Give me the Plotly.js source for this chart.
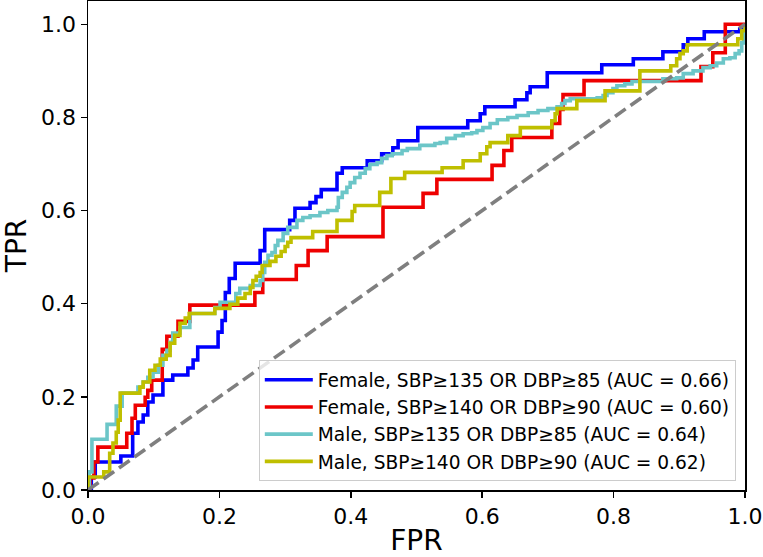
<!DOCTYPE html>
<html>
<head>
<meta charset="utf-8">
<script src="https://cdn.plot.ly/plotly-3.0.1.min.js"></script>
<style>html,body{margin:0;padding:0;background:#fff;}#chart{width:763px;height:557px;}</style>
</head>
<body>
<div id="chart"></div>
<script>
// Female, SBP>=135 OR DBP>=85
const femA_fpr = [0, 0.005, 0.011, 0.050, 0.068, 0.076, 0.084, 0.091, 0.099, 0.114, 0.129, 0.152, 0.160, 0.167, 0.198, 0.204, 0.209, 0.215, 0.224, 0.262, 0.269, 0.307, 0.315, 0.338, 0.347, 0.355, 0.379, 0.387, 0.425, 0.447, 0.464, 0.472, 0.502, 0.578, 0.597, 0.604, 0.650, 0.668, 0.673, 0.699, 0.782, 0.830, 0.875, 0.906, 0.913, 0.938, 0.992, 1.0];
const femA_tpr = [0, 0.028, 0.060, 0.073, 0.122, 0.146, 0.161, 0.189, 0.204, 0.236, 0.247, 0.262, 0.279, 0.307, 0.339, 0.364, 0.424, 0.454, 0.487, 0.514, 0.559, 0.579, 0.605, 0.617, 0.630, 0.645, 0.680, 0.692, 0.707, 0.722, 0.735, 0.750, 0.778, 0.793, 0.808, 0.823, 0.838, 0.853, 0.866, 0.896, 0.913, 0.926, 0.941, 0.956, 0.969, 0.984, 0.990, 1.0];

// Female, SBP>=140 OR DBP>=90
const femB_fpr = [0, 0.003, 0.009, 0.015, 0.059, 0.067, 0.072, 0.087, 0.091, 0.097, 0.113, 0.120, 0.137, 0.155, 0.254, 0.266, 0.317, 0.335, 0.364, 0.449, 0.510, 0.531, 0.615, 0.633, 0.645, 0.706, 0.718, 0.723, 0.755, 0.933, 0.951, 0.970, 1.0];
const femB_tpr = [0, 0.026, 0.060, 0.092, 0.122, 0.154, 0.182, 0.199, 0.214, 0.236, 0.302, 0.330, 0.362, 0.397, 0.424, 0.452, 0.482, 0.514, 0.544, 0.607, 0.637, 0.667, 0.697, 0.729, 0.757, 0.787, 0.817, 0.849, 0.879, 0.909, 0.939, 1.0, 1.0];

// Male, SBP>=135 OR DBP>=85
const malA_fpr = [0, 0.002, 0.006, 0.029, 0.043, 0.052, 0.076, 0.084, 0.091, 0.099, 0.107, 0.114, 0.120, 0.125, 0.129, 0.140, 0.155, 0.193, 0.201, 0.225, 0.231, 0.247, 0.262, 0.266, 0.269, 0.274, 0.280, 0.285, 0.289, 0.297, 0.304, 0.318, 0.327, 0.338, 0.353, 0.365, 0.379, 0.381, 0.387, 0.394, 0.399, 0.406, 0.414, 0.422, 0.429, 0.440, 0.447, 0.455, 0.463, 0.478, 0.486, 0.505, 0.528, 0.536, 0.546, 0.559, 0.571, 0.584, 0.592, 0.601, 0.612, 0.623, 0.639, 0.653, 0.670, 0.685, 0.700, 0.714, 0.721, 0.726, 0.734, 0.775, 0.784, 0.790, 0.799, 0.805, 0.817, 0.828, 0.875, 0.896, 0.906, 0.921, 0.936, 0.947, 0.957, 0.967, 0.977, 0.985, 0.991, 0.995, 0.998, 1.0];
const malA_tpr = [0, 0.039, 0.109, 0.141, 0.180, 0.208, 0.221, 0.232, 0.242, 0.253, 0.268, 0.289, 0.300, 0.317, 0.337, 0.349, 0.379, 0.392, 0.403, 0.422, 0.433, 0.439, 0.450, 0.467, 0.489, 0.504, 0.510, 0.525, 0.536, 0.551, 0.564, 0.579, 0.585, 0.589, 0.596, 0.600, 0.607, 0.628, 0.639, 0.650, 0.660, 0.671, 0.680, 0.690, 0.699, 0.703, 0.712, 0.718, 0.722, 0.729, 0.733, 0.740, 0.744, 0.746, 0.755, 0.761, 0.765, 0.767, 0.772, 0.778, 0.787, 0.795, 0.800, 0.804, 0.810, 0.815, 0.819, 0.823, 0.830, 0.836, 0.840, 0.842, 0.847, 0.853, 0.862, 0.868, 0.872, 0.877, 0.883, 0.885, 0.894, 0.900, 0.907, 0.911, 0.917, 0.926, 0.928, 0.937, 0.943, 0.960, 0.980, 1.0];

// Male, SBP>=140 OR DBP>=90
const malB_fpr = [0, 0.0, 0.024, 0.033, 0.038, 0.043, 0.046, 0.049, 0.079, 0.084, 0.094, 0.102, 0.110, 0.119, 0.125, 0.132, 0.140, 0.148, 0.154, 0.193, 0.216, 0.228, 0.239, 0.247, 0.251, 0.256, 0.262, 0.265, 0.277, 0.286, 0.294, 0.300, 0.304, 0.309, 0.342, 0.379, 0.402, 0.406, 0.444, 0.461, 0.482, 0.539, 0.571, 0.597, 0.607, 0.612, 0.639, 0.658, 0.706, 0.711, 0.714, 0.744, 0.787, 0.840, 0.887, 0.896, 0.901, 0.906, 0.912, 0.989, 0.995, 1.0];
const malB_tpr = [0, 0.028, 0.039, 0.079, 0.101, 0.124, 0.150, 0.208, 0.221, 0.232, 0.257, 0.268, 0.281, 0.289, 0.315, 0.332, 0.358, 0.369, 0.379, 0.390, 0.399, 0.412, 0.422, 0.435, 0.450, 0.459, 0.467, 0.482, 0.491, 0.502, 0.512, 0.523, 0.532, 0.542, 0.555, 0.579, 0.598, 0.611, 0.639, 0.669, 0.682, 0.692, 0.707, 0.722, 0.737, 0.746, 0.761, 0.778, 0.793, 0.808, 0.819, 0.836, 0.857, 0.900, 0.911, 0.926, 0.937, 0.943, 0.956, 0.969, 0.986, 1.0];

const seriesNames = [
  'Female, SBP≥135 OR DBP≥85 (AUC = 0.66)',
  'Female, SBP≥140 OR DBP≥90 (AUC = 0.60)',
  'Male, SBP≥135 OR DBP≥85 (AUC = 0.64)',
  'Male, SBP≥140 OR DBP≥90 (AUC = 0.62)'
];
const chanceLine = [0, 1];
const tickValues = [0, 0.2, 0.4, 0.6, 0.8, 1.0];

const colors = ['#0000ff', '#ee0000', '#6cc6c8', '#bfbf00'];
const xs = [femA_fpr, femB_fpr, malA_fpr, malB_fpr];
const ys = [femA_tpr, femB_tpr, malA_tpr, malB_tpr];

const traces = xs.map((x, i) => ({
  x: x, y: ys[i], type: 'scatter', mode: 'lines', name: seriesNames[i],
  line: {color: colors[i], width: 3.6, shape: 'hv'}
}));
traces.push({
  x: chanceLine, y: chanceLine, type: 'scatter', mode: 'lines', showlegend: false,
  line: {color: '#7f7f7f', width: 3.6, dash: '13px,6px'}
});

const axisCommon = {
  showgrid: false, zeroline: false, showline: true, mirror: true,
  linecolor: '#000', linewidth: 1.5, ticks: 'outside', ticklen: 6, tickwidth: 1.5,
  tickcolor: '#000', tickvals: tickValues, tickformat: '.1f',
  tickfont: {family: 'DejaVu Sans', size: 22, color: '#000'}
};

const layout = {
  width: 763, height: 557,
  margin: {l: 88, r: 18, t: 1, b: 67},
  paper_bgcolor: '#fff', plot_bgcolor: '#fff',
  font: {family: 'DejaVu Sans', color: '#000'},
  xaxis: Object.assign({}, axisCommon, {range: [0, 1],
    title: {text: 'FPR', font: {family: 'DejaVu Sans', size: 28, color: '#000'}, standoff: 6}}),
  yaxis: Object.assign({}, axisCommon, {range: [0, 1.05],
    title: {text: 'TPR', font: {family: 'DejaVu Sans', size: 28, color: '#000'}, standoff: 8}}),
  legend: {
    x: 0.986, y: 0.018, xanchor: 'right', yanchor: 'bottom',
    bgcolor: 'rgba(255,255,255,0.8)', bordercolor: '#cccccc', borderwidth: 1,
    itemwidth: 48,
    font: {family: 'DejaVu Sans', size: 18.6, color: '#000'}
  },
  showlegend: true
};

Plotly.newPlot('chart', traces, layout, {staticPlot: true, displayModeBar: false});
</script>
</body>
</html>
